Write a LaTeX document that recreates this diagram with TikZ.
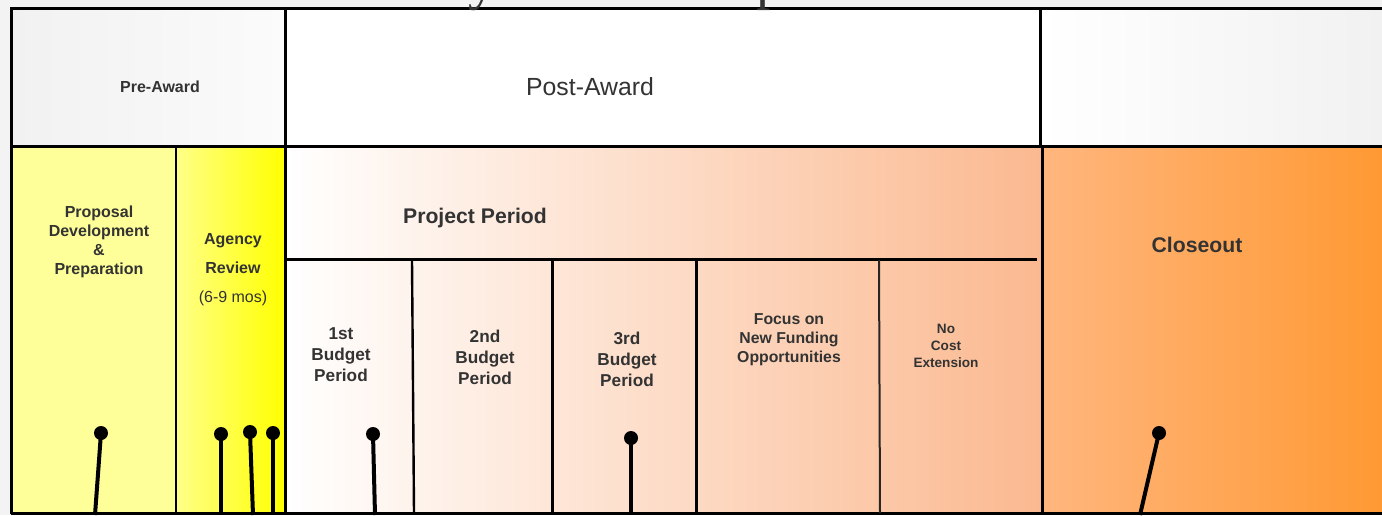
\documentclass[tikz,border=0pt]{standalone}
\usepackage{fontspec}
\setmainfont{Liberation Sans}
\newfontfamily\titlefont{Liberation Serif}
\definecolor{txt}{HTML}{333333}
\definecolor{bggray}{HTML}{F3F3F3}
\definecolor{grayA}{HTML}{F1F1F1}
\definecolor{grayB}{HTML}{FBFBFB}
\definecolor{yelA}{HTML}{FFFF99}
\definecolor{yelB}{HTML}{FFFF88}
\definecolor{yelC}{HTML}{FFFF00}
\definecolor{peachA}{HTML}{FDE4D6}
\definecolor{peachB}{HTML}{FBB990}
\definecolor{orA}{HTML}{FFB67E}
\definecolor{orB}{HTML}{FF9933}
\begin{document}
\begin{tikzpicture}[x=0.5pt,y=-0.5pt,
  rule/.style={draw=black,line width=1.5pt},
  midrule/.style={draw=black,line width=1.2pt},
  thinrule/.style={draw=black!85,line width=1pt},
  lbl/.style={font=\bfseries\fontsize{8}{9.5}\selectfont,text=txt,align=center,inner sep=0pt},
  big/.style={font=\bfseries\fontsize{10.6}{12}\selectfont,text=txt,align=center,inner sep=0pt},
  bud/.style={font=\bfseries\fontsize{8.6}{10.5}\selectfont,text=txt,align=center,inner sep=0pt},
  pin/.style={circle,fill=black,inner sep=0pt,minimum size=7pt},
  stem/.style={draw=black,line width=2pt}]
\useasboundingbox (0,0) rectangle (1382,515);
\clip (0,0) rectangle (1382,515);
\fill[bggray] (0,0) rectangle (1382,515);
% top row cells
\shade[left color=grayA,right color=grayB] (11,8) rectangle (285,146);
\fill[white] (285,8) rectangle (1040,146);
\shade[left color=white,right color=grayA] (1040,8) rectangle (1382,146);
% bottom row cells
\fill[yelA] (11,146) rectangle (176,513);
\shade[left color=yelB,right color=yelC] (176,146) rectangle (285,513);
\shade[left color=white,middle color=peachA,right color=peachB] (285,146) rectangle (1042,513);
\shade[left color=orA,right color=orB] (1042,146) rectangle (1382,513);
% grid lines
\draw[rule] (10,8) -- (1382,8);
\draw[rule] (11,8) -- (11,514);
\draw[rule] (11,146) -- (1382,146);
\draw[rule] (11,513) -- (1382,513);
\draw[rule] (285,8) -- (285,514);
\draw[rule] (1040,8) -- (1040,147);
\draw[rule] (1042,146) -- (1042,514);
\draw[midrule] (176,146) -- (176,513);
\draw[rule] (285,259) -- (1037,259);
\draw[midrule] (412,260) -- (414,513);
\draw[rule] (552,260) -- (552,513);
\draw[rule] (696,260) -- (696,513);
\draw[thinrule] (879,260) -- (880,513);
% title (cut off by the top edge)
\node[font=\titlefont\fontsize{28.4}{30}\selectfont,text=txt,anchor=base,inner sep=0pt] (title) at (736,-1.5) {Cycle of a Proposal/Award};
% header texts
\node[lbl] (pre) at (160,87) {Pre-Award};
\node[font=\fontsize{12.4}{14}\selectfont,text=txt,inner sep=0pt] (post) at (590,87) {Post-Award};
\node[lbl,font=\bfseries\fontsize{8}{9.6}\selectfont] (prop) at (99,242) {Proposal\\Development\\\&\\Preparation};
\node[lbl] (ag1) at (233,241) {Agency};
\node[lbl] (ag2) at (233,268) {Review};
\node[lbl,font=\fontsize{8}{9.5}\selectfont] (ag3) at (233,298) {(6-9 mos)};
\node[big] (proj) at (475,218) {Project Period};
\node[big] (close) at (1197,245) {Closeout};
\node[bud] (b1) at (341,355) {1st\\Budget\\Period};
\node[bud] (b2) at (485,357) {2nd\\Budget\\Period};
\node[bud] (b3) at (627,359) {3rd\\Budget\\Period};
\node[lbl,font=\bfseries\fontsize{7.9}{9.5}\selectfont] (focus) at (789,340) {Focus on\\New Funding\\Opportunities};
\node[lbl,font=\bfseries\fontsize{6.8}{8.5}\selectfont] (nce) at (946,346) {No\\Cost\\Extension};
% pins
\node[pin] (p1) at (101,433) {};
\node[pin] (p2) at (221,434) {};
\node[pin] (p3) at (250,432) {};
\node[pin] (p4) at (273,433) {};
\node[pin] (p5) at (373,434) {};
\node[pin] (p6) at (631,438) {};
\node[pin] (p7) at (1159,433) {};
\coordinate (e1) at (95,515);
\coordinate (e2) at (221,515);
\coordinate (e3) at (253,515);
\coordinate (e4) at (273,515);
\coordinate (e5) at (375,515);
\coordinate (e6) at (631,515);
\coordinate (e7) at (1140,515);
\foreach \i in {1,...,7} {\draw[stem] (p\i.center) -- (e\i);}
\end{tikzpicture}
\end{document}
